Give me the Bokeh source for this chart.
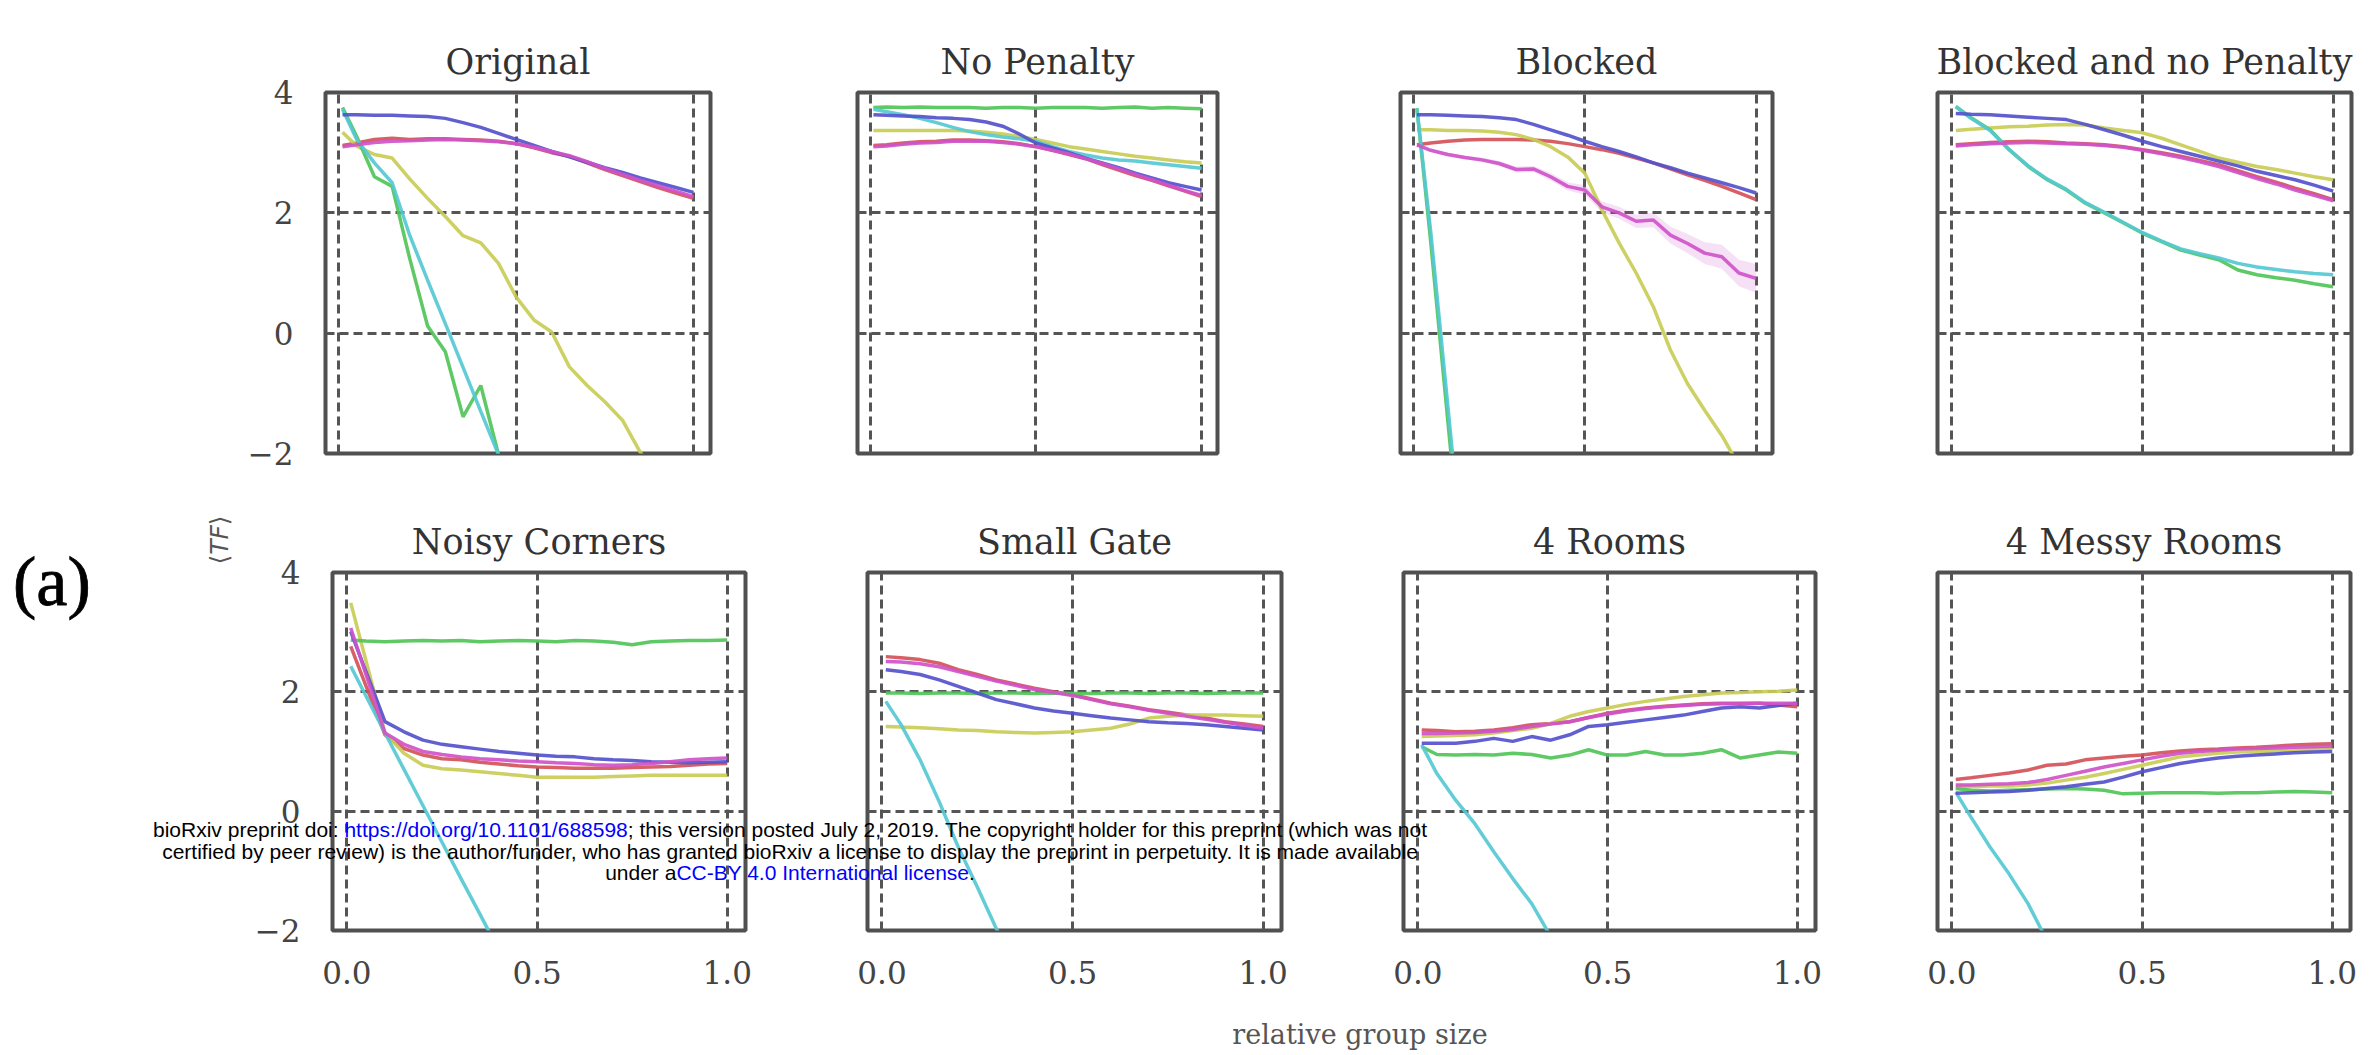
import numpy as np
from bokeh.plotting import figure
from bokeh.models import Range1d, FixedTicker, Div
from bokeh.layouts import row, column
from bokeh.embed import file_html
from bokeh.resources import INLINE

# ---------------- data ----------------
X = [0.01, 0.05, 0.10, 0.15, 0.20, 0.25, 0.30, 0.35, 0.40, 0.45, 0.50,
     0.55, 0.60, 0.65, 0.70, 0.75, 0.80, 0.85, 0.90, 0.95, 1.00]

SERIES = ["red", "yellow", "green", "cyan", "blue", "magenta"]

N = None

ORIGINAL = dict(
    red=[3.12, 3.16, 3.22, 3.24, 3.22, 3.23, 3.23, 3.22, 3.21, 3.19, 3.15, 3.08, 3.00, 2.94, 2.83, 2.72, 2.62, 2.52, 2.42, 2.33, 2.24],
    yellow=[3.34, 3.11, 2.97, 2.91, 2.56, 2.24, 1.94, 1.62, 1.50, 1.16, 0.60, 0.22, 0.02, -0.56, -0.87, -1.14, -1.45, -1.98, -2.40, N, N],
    green=[3.75, 3.27, 2.60, 2.44, 1.23, 0.12, -0.31, -1.39, -0.87, -2.02, -2.70, N, N, N, N, N, N, N, N, N, N],
    cyan=[3.72, 3.22, 2.83, 2.50, 1.62, 0.88, 0.16, -0.57, -1.30, -2.02, -2.75, N, N, N, N, N, N, N, N, N, N],
    blue=[3.63, 3.63, 3.62, 3.62, 3.61, 3.60, 3.57, 3.50, 3.42, 3.32, 3.22, 3.12, 3.02, 2.93, 2.84, 2.75, 2.67, 2.58, 2.50, 2.42, 2.34],
    magenta=[3.10, 3.13, 3.17, 3.19, 3.20, 3.21, 3.22, 3.21, 3.20, 3.18, 3.15, 3.09, 3.02, 2.95, 2.85, 2.74, 2.64, 2.54, 2.45, 2.36, 2.27],
)

NO_PENALTY = dict(
    red=[3.12, 3.13, 3.16, 3.18, 3.19, 3.21, 3.21, 3.20, 3.18, 3.15, 3.10, 3.04, 2.97, 2.90, 2.80, 2.71, 2.62, 2.54, 2.45, 2.36, 2.27],
    yellow=[3.37, 3.37, 3.37, 3.37, 3.37, 3.37, 3.36, 3.34, 3.31, 3.27, 3.22, 3.16, 3.10, 3.06, 3.02, 2.98, 2.94, 2.91, 2.88, 2.85, 2.83],
    green=[3.75, 3.76, 3.75, 3.76, 3.75, 3.75, 3.75, 3.74, 3.75, 3.75, 3.74, 3.75, 3.75, 3.75, 3.74, 3.75, 3.76, 3.74, 3.75, 3.74, 3.73],
    cyan=[3.72, 3.68, 3.63, 3.57, 3.50, 3.42, 3.35, 3.30, 3.26, 3.23, 3.19, 3.10, 3.02, 2.96, 2.91, 2.88, 2.86, 2.83, 2.80, 2.77, 2.74],
    blue=[3.63, 3.62, 3.61, 3.60, 3.58, 3.57, 3.55, 3.51, 3.44, 3.31, 3.16, 3.08, 3.00, 2.91, 2.83, 2.75, 2.66, 2.58, 2.50, 2.44, 2.38],
    magenta=[3.10, 3.11, 3.14, 3.16, 3.17, 3.19, 3.19, 3.19, 3.17, 3.14, 3.10, 3.04, 2.98, 2.90, 2.82, 2.73, 2.64, 2.55, 2.46, 2.37, 2.29],
)

BLOCKED = dict(
    red=[3.13, 3.16, 3.19, 3.21, 3.22, 3.22, 3.22, 3.21, 3.19, 3.15, 3.10, 3.05, 2.99, 2.91, 2.83, 2.73, 2.63, 2.54, 2.44, 2.33, 2.22],
    yellow=[3.38, 3.38, 3.37, 3.37, 3.36, 3.34, 3.30, 3.22, 3.10, 2.93, 2.66, 2.05, 1.50, 1.00, 0.44, -0.28, -0.84, -1.28, -1.70, -2.20, N],
    green=[3.74, 1.53, -1.45, -4.40, N, N, N, N, N, N, N, N, N, N, N, N, N, N, N, N, N],
    cyan=[3.72, 1.70, -1.20, -4.10, N, N, N, N, N, N, N, N, N, N, N, N, N, N, N, N, N],
    blue=[3.63, 3.63, 3.62, 3.61, 3.60, 3.58, 3.55, 3.47, 3.38, 3.29, 3.19, 3.10, 3.02, 2.93, 2.83, 2.75, 2.66, 2.58, 2.50, 2.42, 2.33],
    magenta=[3.13, 3.04, 2.97, 2.92, 2.88, 2.82, 2.72, 2.73, 2.60, 2.44, 2.38, 2.10, 2.00, 1.86, 1.88, 1.63, 1.49, 1.33, 1.27, 1.00, 0.91],
)
BLOCKED_MAGENTA_SPREAD = [0.01, 0.02, 0.03, 0.03, 0.04, 0.04, 0.05, 0.05, 0.06, 0.07, 0.08,
                          0.09, 0.10, 0.11, 0.12, 0.14, 0.16, 0.18, 0.20, 0.22, 0.24]

BLOCKED_NO_PENALTY = dict(
    red=[3.13, 3.15, 3.17, 3.18, 3.19, 3.18, 3.16, 3.15, 3.13, 3.10, 3.05, 3.00, 2.94, 2.87, 2.80, 2.70, 2.60, 2.51, 2.41, 2.32, 2.22],
    yellow=[3.37, 3.39, 3.41, 3.43, 3.44, 3.46, 3.47, 3.46, 3.41, 3.37, 3.33, 3.24, 3.13, 3.02, 2.91, 2.84, 2.77, 2.72, 2.66, 2.60, 2.55],
    green=[3.77, 3.58, 3.38, 3.05, 2.77, 2.55, 2.38, 2.16, 2.00, 1.83, 1.66, 1.52, 1.38, 1.30, 1.22, 1.05, 0.97, 0.92, 0.88, 0.82, 0.77],
    cyan=[3.76, 3.57, 3.37, 3.05, 2.78, 2.56, 2.39, 2.17, 2.01, 1.84, 1.67, 1.53, 1.40, 1.32, 1.25, 1.16, 1.10, 1.06, 1.02, 0.99, 0.97],
    blue=[3.65, 3.64, 3.63, 3.61, 3.59, 3.57, 3.55, 3.47, 3.38, 3.29, 3.19, 3.10, 3.02, 2.94, 2.86, 2.78, 2.69, 2.62, 2.55, 2.46, 2.36],
    magenta=[3.11, 3.13, 3.15, 3.16, 3.17, 3.16, 3.15, 3.14, 3.12, 3.09, 3.04, 2.98, 2.92, 2.85, 2.77, 2.67, 2.57, 2.48, 2.38, 2.29, 2.20],
)

NOISY_CORNERS = dict(
    red=[2.76, 2.10, 1.28, 1.05, 0.94, 0.88, 0.86, 0.82, 0.79, 0.76, 0.74, 0.73, 0.72, 0.72, 0.72, 0.73, 0.74, 0.75, 0.77, 0.79, 0.80],
    yellow=[3.49, 2.52, 1.31, 0.97, 0.77, 0.71, 0.69, 0.66, 0.63, 0.60, 0.57, 0.57, 0.57, 0.57, 0.58, 0.59, 0.60, 0.60, 0.60, 0.60, 0.60],
    green=[2.87, 2.85, 2.84, 2.85, 2.86, 2.85, 2.86, 2.84, 2.85, 2.86, 2.85, 2.84, 2.86, 2.85, 2.83, 2.79, 2.84, 2.85, 2.86, 2.86, 2.87],
    cyan=[2.43, 1.93, 1.31, 0.70, 0.09, -0.52, -1.13, -1.73, -2.34, N, N, N, N, N, N, N, N, N, N, N, N],
    blue=[3.01, 2.34, 1.50, 1.33, 1.19, 1.12, 1.08, 1.04, 1.00, 0.97, 0.94, 0.92, 0.91, 0.88, 0.86, 0.85, 0.83, 0.82, 0.81, 0.82, 0.83],
    magenta=[3.07, 2.29, 1.31, 1.12, 1.00, 0.95, 0.91, 0.88, 0.86, 0.84, 0.83, 0.81, 0.80, 0.78, 0.77, 0.78, 0.80, 0.83, 0.86, 0.88, 0.89],
)

SMALL_GATE = dict(
    red=[2.59, 2.57, 2.54, 2.48, 2.37, 2.29, 2.20, 2.13, 2.06, 2.00, 1.95, 1.88, 1.81, 1.76, 1.70, 1.66, 1.61, 1.56, 1.50, 1.46, 1.42],
    yellow=[1.42, 1.41, 1.40, 1.38, 1.36, 1.35, 1.33, 1.32, 1.31, 1.32, 1.33, 1.36, 1.39, 1.46, 1.56, 1.59, 1.61, 1.61, 1.61, 1.60, 1.59],
    green=[1.98, 1.98, 1.97, 1.98, 1.98, 1.97, 1.98, 1.98, 1.97, 1.98, 1.97, 1.97, 1.98, 1.98, 1.97, 1.98, 1.98, 1.97, 1.98, 1.98, 1.98],
    cyan=[1.84, 1.45, 0.86, 0.16, -0.60, -1.27, -1.97, -2.60, N, N, N, N, N, N, N, N, N, N, N, N, N],
    blue=[2.37, 2.34, 2.29, 2.20, 2.09, 1.98, 1.87, 1.80, 1.73, 1.68, 1.64, 1.60, 1.56, 1.53, 1.50, 1.48, 1.47, 1.45, 1.42, 1.39, 1.36],
    magenta=[2.51, 2.50, 2.47, 2.42, 2.34, 2.26, 2.18, 2.11, 2.04, 1.99, 1.94, 1.87, 1.80, 1.75, 1.69, 1.64, 1.59, 1.54, 1.49, 1.44, 1.39],
)

FOUR_ROOMS = dict(
    red=[1.36, 1.35, 1.33, 1.34, 1.36, 1.40, 1.45, 1.47, 1.50, 1.57, 1.64, 1.69, 1.73, 1.76, 1.78, 1.80, 1.81, 1.81, 1.81, 1.78, 1.75],
    yellow=[1.25, 1.26, 1.27, 1.28, 1.31, 1.35, 1.39, 1.47, 1.59, 1.67, 1.73, 1.79, 1.84, 1.88, 1.92, 1.95, 1.98, 1.99, 2.00, 2.01, 2.03],
    green=[1.08, 0.95, 0.94, 0.95, 0.94, 0.97, 0.95, 0.89, 0.94, 1.03, 0.94, 0.94, 1.00, 0.94, 0.94, 0.97, 1.03, 0.89, 0.94, 0.99, 0.97],
    cyan=[1.11, 0.63, 0.18, -0.21, -0.68, -1.13, -1.55, -2.10, N, N, N, N, N, N, N, N, N, N, N, N, N],
    blue=[1.14, 1.14, 1.14, 1.17, 1.22, 1.17, 1.25, 1.19, 1.28, 1.42, 1.45, 1.49, 1.53, 1.57, 1.61, 1.67, 1.73, 1.75, 1.73, 1.77, 1.81],
    magenta=[1.30, 1.30, 1.31, 1.32, 1.34, 1.37, 1.42, 1.46, 1.50, 1.57, 1.63, 1.68, 1.72, 1.75, 1.77, 1.79, 1.80, 1.80, 1.81, 1.81, 1.81],
)

MESSY_ROOMS = dict(
    red=[0.53, 0.56, 0.60, 0.64, 0.69, 0.77, 0.79, 0.86, 0.89, 0.92, 0.94, 0.98, 1.01, 1.03, 1.04, 1.06, 1.07, 1.09, 1.11, 1.12, 1.13],
    yellow=[0.41, 0.41, 0.42, 0.42, 0.44, 0.47, 0.52, 0.57, 0.63, 0.70, 0.77, 0.84, 0.91, 0.94, 0.97, 0.99, 1.00, 1.01, 1.02, 1.04, 1.05],
    green=[0.38, 0.35, 0.34, 0.35, 0.36, 0.37, 0.38, 0.37, 0.35, 0.29, 0.30, 0.31, 0.31, 0.31, 0.30, 0.31, 0.31, 0.32, 0.33, 0.32, 0.31],
    cyan=[0.32, -0.10, -0.60, -1.05, -1.55, -2.17, N, N, N, N, N, N, N, N, N, N, N, N, N, N, N],
    blue=[0.30, 0.31, 0.32, 0.33, 0.35, 0.38, 0.41, 0.45, 0.49, 0.57, 0.66, 0.73, 0.80, 0.85, 0.89, 0.92, 0.94, 0.96, 0.98, 0.99, 1.00],
    magenta=[0.44, 0.44, 0.45, 0.46, 0.48, 0.53, 0.60, 0.67, 0.74, 0.80, 0.86, 0.92, 0.97, 1.00, 1.02, 1.04, 1.05, 1.06, 1.07, 1.08, 1.09],
)

TITLES = ["Original", "No Penalty", "Blocked", "Blocked and no Penalty",
          "Noisy Corners", "Small Gate", "4 Rooms", "4 Messy Rooms"]
PANEL_DATA = [ORIGINAL, NO_PENALTY, BLOCKED, BLOCKED_NO_PENALTY,
              NOISY_CORNERS, SMALL_GATE, FOUR_ROOMS, MESSY_ROOMS]

Y_TICKS = [-2, 0, 2, 4]
Y_TICK_LABELS = {-2: "\u22122", 0: "0", 2: "2", 4: "4"}
X_TICKS = [0.0, 0.5, 1.0]
X_TICK_LABELS = {0: "0.0", 0.5: "0.5", 1: "1.0"}

X_LABEL = "relative group size"
Y_LABEL = "\u27e8<i>TF</i>\u27e9"
PANEL_TAG = "(a)"
WM_LINE1_A = "bioRxiv preprint doi: "
WM_LINK1 = "https://doi.org/10.1101/688598"
WM_LINE1_B = "; this version posted July 2, 2019. The copyright holder for this preprint (which was not"
WM_LINE2 = "certified by peer review) is the author/funder, who has granted bioRxiv a license to display the preprint in perpetuity. It is made available"
WM_LINE3_A = "under a"
WM_LINK3 = "CC-BY 4.0 International license"
WM_LINE3_B = "."

# ---------------- style / layout ----------------
COLORS = dict(red="#d4525a", yellow="#c9cc55", green="#50c458", cyan="#55c9d2",
              blue="#5552cc", magenta="#cf52c9")
X_RANGE = (-0.038, 1.048)
Y_RANGE = (-2.0, 4.0)
SERIF = "DejaVu Serif"

# (canvas width, border left, border right)
TOP_GEOM = [(783, 325, 73), (525, 74, 91), (546, 92, 82), (525, 83, 28)]
BOT_GEOM = [(806, 332, 61), (536, 61, 61), (534, 61, 61), (503, 61, 29)]
TOP_H, TOP_BT, TOP_BB = 500, 92, 47
BOT_H, BOT_BT, BOT_BB = 500, 72, 70


def to_arr(vals):
    return np.array([np.nan if v is None else v for v in vals], dtype=float)


def make_panel(title, data, geom, height, bt, bb, show_y, show_x, standoff, spread=None):
    w, bl, br = geom
    p = figure(width=w, height=height, x_range=Range1d(*X_RANGE), y_range=Range1d(*Y_RANGE),
               output_backend="svg", toolbar_location=None, tools="",
               min_border_left=bl, min_border_right=br, min_border_top=bt, min_border_bottom=bb)
    p.title.text = title
    p.title.align = "center"
    p.title.text_font = SERIF
    p.title.text_font_size = "35px"
    p.title.text_font_style = "normal"
    p.title.text_color = "#333333"
    p.title.standoff = standoff
    p.background_fill_color = "white"
    p.border_fill_color = "white"
    p.outline_line_color = "#505050"
    p.outline_line_width = 4
    p.outline_line_alpha = 1.0

    p.xaxis.ticker = FixedTicker(ticks=X_TICKS)
    p.yaxis.ticker = FixedTicker(ticks=Y_TICKS)
    p.xgrid.ticker = FixedTicker(ticks=X_TICKS)
    p.ygrid.ticker = FixedTicker(ticks=Y_TICKS)
    p.xaxis.major_label_overrides = X_TICK_LABELS
    p.yaxis.major_label_overrides = Y_TICK_LABELS
    for ax in (p.xaxis[0], p.yaxis[0]):
        ax.axis_line_color = None
        ax.major_tick_line_color = None
        ax.minor_tick_line_color = None
        ax.major_tick_in = 0
        ax.major_tick_out = 0
        ax.minor_tick_in = 0
        ax.minor_tick_out = 0
        ax.major_label_text_font = SERIF
        ax.major_label_text_font_size = "31px"
        ax.major_label_text_color = "#444444"
    p.xaxis.major_label_standoff = 30
    p.yaxis.major_label_standoff = 32
    p.xaxis.visible = show_x
    p.yaxis.visible = show_y
    for g in (p.xgrid[0], p.ygrid[0]):
        g.grid_line_color = "#555555"
        g.grid_line_width = 3
        g.grid_line_dash = "9 5"
        g.grid_line_alpha = 1.0

    if spread is not None:
        m = to_arr(data["magenta"])
        s = to_arr(spread)
        p.varea(x=X, y1=m - s, y2=m + s, fill_color=COLORS["magenta"], fill_alpha=0.18)
    for name in SERIES:
        p.line(x=X, y=to_arr(data[name]), line_color=COLORS[name], line_width=3.5, line_alpha=0.92)
    return p


figs = []
for i in range(8):
    top = i < 4
    geom = TOP_GEOM[i] if top else BOT_GEOM[i - 4]
    p = make_panel(TITLES[i], PANEL_DATA[i], geom,
                   TOP_H if top else BOT_H,
                   TOP_BT if top else BOT_BT,
                   TOP_BB if top else BOT_BB,
                   show_y=(i in (0, 4)), show_x=(not top),
                   standoff=21,
                   spread=BLOCKED_MAGENTA_SPREAD if i == 2 else None)
    figs.append(p)


def abs_div(html, left, top, width, height, extra=None):
    st = {"position": "absolute", "left": f"{left}px", "top": f"{top}px", "z-index": "10"}
    if extra:
        st.update(extra)
    return Div(text=html, width=width, height=height, margin=(0, 0, 0, 0), styles=st)


tag_div = abs_div("<div style=\"font-family:'Liberation Serif';font-size:70px;line-height:70px;"
                  "color:#000000;white-space:nowrap;-webkit-text-stroke:0.8px #000000;\">" + PANEL_TAG + "</div>",
                  13, 547, 100, 70)

ylabel_div = abs_div("<div style=\"width:90px;font-family:'DejaVu Sans';font-size:25px;line-height:32px;"
                     "color:#555555;text-align:center;white-space:nowrap;\">" + Y_LABEL + "</div>",
                     175, 524, 90, 32, {"transform": "rotate(-90deg)"})

xlabel_div = abs_div("<div style=\"width:600px;font-family:'DejaVu Serif';font-size:27px;line-height:30px;"
                     "color:#555555;text-align:center;white-space:nowrap;\">" + X_LABEL + "</div>",
                     1060, 1020, 600, 30)

blue = "color:#0000ff;"
wm_html = ("<div style=\"width:1400px;font-family:'Liberation Sans',Arial,sans-serif;font-size:21px;"
           "line-height:21.7px;color:#000000;text-align:center;white-space:nowrap;\">"
           + WM_LINE1_A + "<span style=\"" + blue + "\">" + WM_LINK1 + "</span>" + WM_LINE1_B + "<br>"
           + WM_LINE2 + "<br>"
           + WM_LINE3_A + "<span style=\"" + blue + "\">" + WM_LINK3 + "</span>" + WM_LINE3_B
           + "</div>")
watermark = abs_div(wm_html, 90, 819, 1400, 70)

page = column(row(*figs[:4], spacing=0), row(*figs[4:], spacing=0),
              tag_div, ylabel_div, xlabel_div, watermark, spacing=0)

open("out.html", "w").write(file_html(page, INLINE, title="TF vs relative group size"))
